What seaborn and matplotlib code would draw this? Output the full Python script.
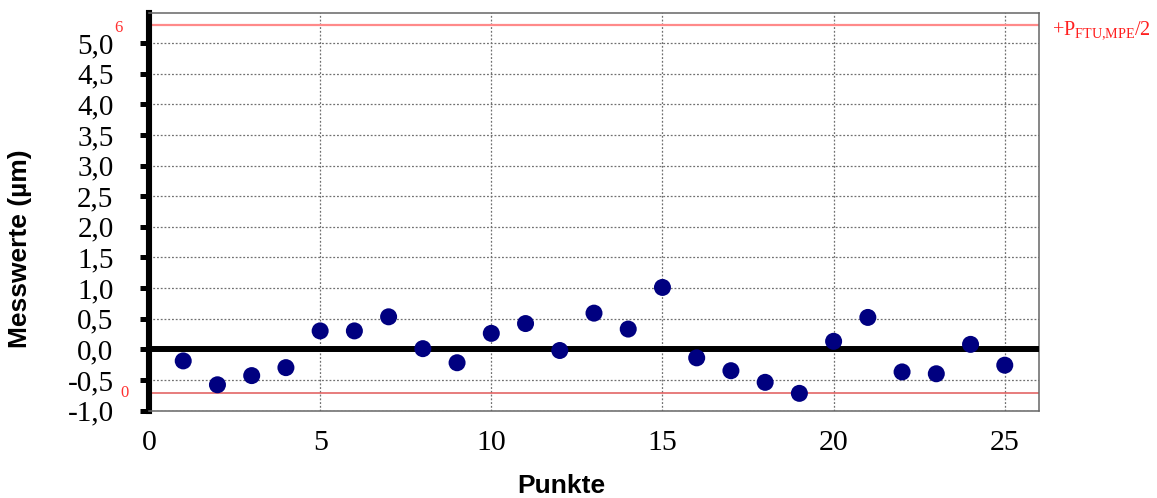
import matplotlib
matplotlib.use("Agg")
import matplotlib.pyplot as plt
import seaborn as sns
import pandas as pd

# ---- data ----
punkte = list(range(1, 26))
messwerte = [-0.19, -0.58, -0.43, -0.30, 0.30, 0.30, 0.53, 0.01, -0.22, 0.26,
             0.42, -0.02, 0.59, 0.33, 1.01, -0.14, -0.35, -0.54, -0.72, 0.13,
             0.52, -0.37, -0.40, 0.08, -0.26]
upper_limit = 5.3
lower_line = -0.72
y_ticks = [-1.0, -0.5, 0.0, 0.5, 1.0, 1.5, 2.0, 2.5, 3.0, 3.5, 4.0, 4.5, 5.0]
y_tick_labels = ["-1,0", "-0,5", "0,0", "0,5", "1,0", "1,5", "2,0", "2,5",
                 "3,0", "3,5", "4,0", "4,5", "5,0"]
x_ticks = [0, 5, 10, 15, 20, 25]
x_tick_labels = ["0", "5", "10", "15", "20", "25"]
upper_label = r"+P$_{\mathregular{FTU{,}MPE}}$/2"
upper_side_label = "6"
lower_side_label = "0"

df = pd.DataFrame({"Punkte": punkte, "Messwerte": messwerte})

sns.set_style("white")
plt.rcParams["font.family"] = ["Liberation Serif", "DejaVu Serif"]
plt.rcParams["mathtext.fontset"] = "custom"
plt.rcParams["mathtext.rm"] = "Liberation Serif"
plt.rcParams["text.color"] = "black"
plt.rcParams["axes.labelcolor"] = "black"

fig = plt.figure(figsize=(11.57, 4.98), dpi=100)
ax = fig.add_axes([149/1157, (498-410.5)/498, (1039-149)/1157, (410.5-12.5)/498])

ax.set_xlim(0, 26)
ax.set_ylim(-1.0, 5.5)

# grid
for yv in y_ticks:
    ax.axhline(yv, color="#707070", lw=0.9, ls=(0, (1.5, 1.5)), zorder=1)
for xv in x_ticks[1:]:
    ax.axvline(xv, color="#707070", lw=0.9, ls=(0, (1.5, 1.5)), zorder=1)

# reference lines
ax.axhline(upper_limit, color="#ff8a8a", lw=1.6, zorder=2)
ax.axhline(lower_line, color="#e05858", lw=1.1, zorder=2)
ax.axhline(0, color="black", lw=4.3, zorder=3)

sns.scatterplot(data=df, x="Punkte", y="Messwerte", ax=ax, color="#000080",
                s=150, edgecolor="none", zorder=5, legend=False)

ax.set_xticks(x_ticks)
ax.set_xticklabels(x_tick_labels)
ax.set_yticks(y_ticks)
ax.set_yticklabels(y_tick_labels)
ax.tick_params(axis="y", direction="out", length=6.5, width=3.6, color="black",
               labelsize=21, pad=19, left=True, labelcolor="black")
ax.tick_params(axis="x", length=0, labelsize=21.5, pad=14, labelcolor="black")

for sp in ["top", "right", "bottom"]:
    ax.spines[sp].set_color("#666666")
    ax.spines[sp].set_linewidth(1.1)
ax.spines["left"].set_color("black")
ax.spines["left"].set_linewidth(4.4)

ax.set_xlabel("Punkte", family=["Liberation Sans", "DejaVu Sans"],
              fontweight="bold", fontsize=19, color="black")
ax.set_ylabel("Messwerte (µm)", family=["Liberation Sans", "DejaVu Sans"],
              fontweight="bold", fontsize=19, color="black")
ax.xaxis.set_label_coords(0.4635, -0.159)
ax.yaxis.set_label_coords(-0.1315, 0.406)

trans = ax.get_yaxis_transform()
ax.text(-0.034, upper_limit - 0.05, upper_side_label, transform=trans, color="#ff3030",
        fontsize=12, ha="center", va="center")
ax.text(-0.028, lower_line, lower_side_label, transform=trans, color="#ff3030",
        fontsize=12, ha="center", va="center")
ax.text(1.0145, upper_limit - 0.1, upper_label, transform=trans, color="#ff2020",
        fontsize=14.5, ha="left", va="center")

fig.savefig("out.png", dpi=100)
